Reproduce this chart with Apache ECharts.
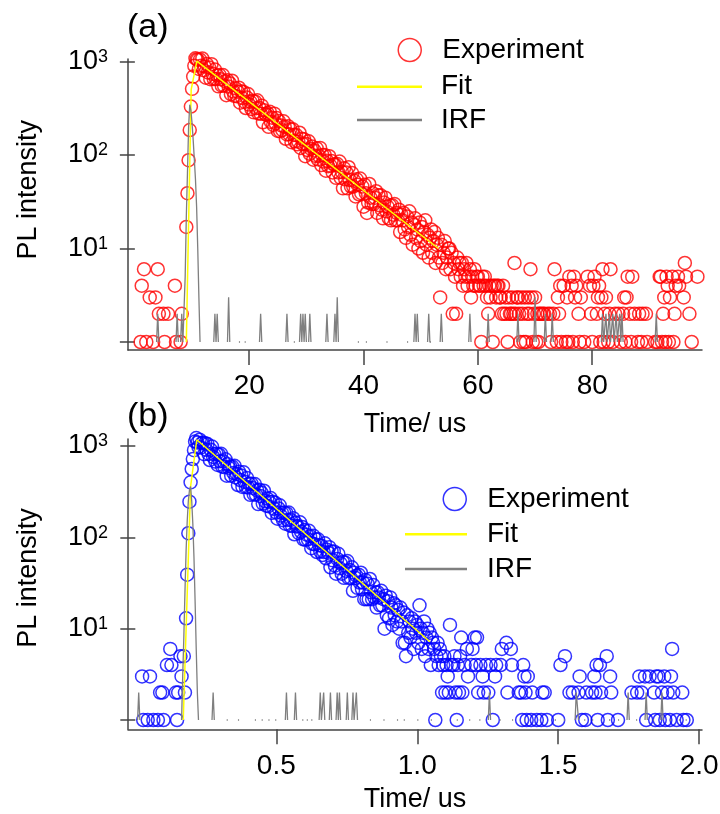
<!DOCTYPE html>
<html>
<head>
<meta charset="utf-8">
<script src="https://cdn.jsdelivr.net/npm/echarts@6/dist/echarts.min.js"></script>
<style>html,body{margin:0;padding:0;background:#fff}#chart{width:720px;height:814px}</style>
</head>
<body>
<div id="chart"></div>
<script>
var chart = echarts.init(document.getElementById('chart'));

var font = 'Liberation Sans, Arial, sans-serif';
var axisColor = '#444';

// panel (a): channel width 0.2 us, counts per channel
var binA = 0.2;
var countsA = [
  0,0,0,0,0,1,4,0,6,0, 1,0,0,3,0,0,1,0,3,0,
  6,2,0,0,0,2,1,0,0,2, 0,0,0,0,0,4,1,0,0,0,
  1,2,0,0,0,17,39,88,185,330, 510,690,900,1080,1060,1047,832,1050,898,1078,
  807,885,671,939,764,860,647,937,738,649, 821,649,710,542,719,646,552,717,552,616,
  436,629,539,586,447,623,479,429,517,425, 476,524,363,481,407,473,369,318,412,448,
  346,371,310,380,286,374,317,384,279,318, 276,337,224,301,274,269,281,200,290,226,
  251,210,277,219,248,181,231,180,207,184, 229,201,149,166,203,167,189,137,189,164,
  140,164,130,139,173,119,149,131,147,97, 131,113,140,103,116,123,89,112,98,118,
  90,98,119,78,100,85,100,68,87,76, 97,77,86,65,79,79,57,80,65,85,
  57,66,44,72,55,65,44,74,54,46, 64,46,53,36,55,48,38,56,39,46,
  28,48,39,24,31,49,35,30,39,30, 35,41,24,37,29,37,26,21,31,35,
  25,28,21,29,20,29,23,30,20,24, 20,26,15,23,20,24,16,13,22,17,
  25,14,19,11,18,21,13,16,10,19, 12,17,9,15,20,11,14,8,13,16,
  9,12,15,7,11,13,8,3,11,7, 9,12,6,8,10,10,6,9,2,7,
  5,2,8,6,7,5,7,4,6,5, 7,4,5,6,3,5,4,6,4,5,
  5,4,4,1,5,4,5,4,3,2, 4,3,4,1,4,4,3,4,4,3,
  3,2,4,2,3,2,1,3,2,2, 3,2,7,2,3,3,2,1,3,2,
  1,3,1,2,3,2,6,3,1,2, 3,1,2,1,2,2,0,2,2,0,
  0,2,0,2,1,0,2,6,0,1, 3,2,4,1,0,4,0,1,3,1,
  5,0,4,1,5,3,4,0,2,1, 3,0,0,1,0,0,5,0,4,2,
  1,4,5,0,2,3,4,1,3,6, 1,2,3,0,1,2,6,0,1,0,
  2,0,0,2,0,1,0,2,3,1, 3,5,0,2,1,5,0,2,0,0,
  1,2,0,1,2,0,0,2,1,0, 0,0,0,0,0,1,0,1,0,5,
  5,1,2,3,1,5,4,1,3,0, 5,1,2,4,0,5,4,0,0,0,
  3,7,5,0,0,2,0,1,0,0, 0,0,5,0,0,0,0,0,0,0
];
var irfA = [
  0,0,0,0,0,0,0,0,0,0, 0,0,0,0,0,0,0,0,0,1,
  2,1,0,0,0,0,0,0,0,0, 0,0,0,0,0,0,1,2,1,0,
  1,2,1,1,5,22,64,200,345,300, 220,145,90,55,28,10,3,1,0,0,
  0,0,0,0,0,0,0,0,0,1, 2,1,2,1,0,0,0,0,0,0,
  0,1,3,1,0,0,0,0,0,0, 0,1,1,0,0,0,1,1,0,0,
  0,0,0,0,0,0,0,0,0,1, 2,1,0,0,0,0,0,0,0,0,
  0,0,0,0,0,0,0,0,0,0, 0,0,1,2,1,0,0,0,0,1,
  1,0,0,0,1,2,1,2,1,2, 1,0,1,2,1,0,0,0,0,0,
  0,0,0,0,0,0,0,1,2,1, 0,0,0,0,1,2,1,3,1,0,
  0,0,0,0,0,0,0,0,0,0, 0,0,0,0,0,1,1,0,0,0,
  0,0,1,1,0,0,0,0,0,0, 0,0,0,0,0,0,0,0,0,0,
  1,1,0,0,0,0,0,0,0,0, 0,0,0,0,0,0,0,0,1,1,
  0,0,0,0,1,2,1,2,1,0, 0,0,0,0,0,0,1,2,1,1,
  0,0,0,0,0,0,0,1,2,1, 0,0,0,0,0,0,0,0,0,0,
  0,0,0,0,0,0,0,0,0,0, 0,0,1,2,1,0,0,0,0,0,
  0,0,0,0,0,0,0,0,1,2, 1,0,0,0,0,0,0,0,0,0,
  0,0,0,0,0,0,0,0,0,0, 0,0,0,0,1,2,1,0,0,0,
  0,0,0,0,0,0,0,0,0,1, 3,1,0,0,0,0,0,0,1,2,
  1,0,0,0,1,2,1,0,0,0, 0,0,0,0,0,0,0,0,0,0,
  0,0,0,0,0,0,0,0,0,0, 0,0,0,0,0,0,0,0,0,0,
  0,0,0,0,0,0,0,0,1,2, 1,1,2,1,1,2,1,1,2,1,
  1,2,1,1,2,1,2,1,0,0, 0,0,0,0,0,0,0,0,0,0,
  0,0,0,0,0,0,0,0,0,0, 0,0,0,0,0,1,2,1,0,0,
  0,0,0,0,0,0,0,0,0,0, 0,0,0,0,0,0,0,0,0,0,
  0,0,0,0,0,0,0,0,0,0, 0,0,0,0,0,0,0,0,0,0
];
var fitTimeA = [9.0, 9.85, 10.84, 53.1];
var fitValA = [1, 500, 1010, 10];
var ticksA = [20, 40, 60, 80];

// panel (b): channel width 0.004 us
var binB = 0.004;
var countsB = [
  0,0,0,0,0,0,3,1,0,0, 0,1,0,3,0,0,1,0,0,0,
  1,0,2,0,2,1,0,0,4,0, 0,6,4,0,0,0,2,1,2,0,
  5,3,0,5,2,13,39,111,246,400, 560,720,900,1120,1220,1092,976,1172,961,1073,
  1090,813,1074,907,1051,818,702,907,985,758, 811,675,825,621,808,681,822,595,679,586,
  714,473,632,577,597,472,595,507,607,453, 495,374,522,424,475,356,515,405,355,447,
  352,385,292,387,347,295,383,293,327,231, 332,283,307,234,324,249,222,266,219,244,
  269,185,245,206,239,187,160,207,224,173, 185,154,187,141,184,155,187,135,155,133,
  162,108,144,131,133,111,146,115,130,95, 120,94,107,95,118,103,76,85,104,84,
  95,69,95,82,70,81,64,69,86,59, 73,68,78,47,70,56,70,49,40,58,
  66,46,52,40,54,36,53,43,55,36, 44,36,47,26,41,36,38,28,39,32,
  41,27,32,21,34,21,31,21,35,25, 21,30,22,25,17,25,22,18,26,18,
  21,10,23,14,20,13,22,17,11,19, 14,18,12,16,10,17,12,7,15,7,
  5,14,9,12,8,13,10,6,12,9, 11,7,18,10,6,9,12,5,8,10,
  6,9,4,8,7,6,1,5,7,4, 6,5,2,4,5,2,4,3,2,11,
  4,0,4,5,2,1,4,2,5,8, 2,0,4,0,6,3,0,0,4,6,
  0,8,4,8,2,0,4,0,3,2, 0,4,0,2,0,4,0,1,0,3,
  4,0,0,0,4,6,0,0,0,7, 2,0,0,6,4,0,0,0,0,0,
  2,0,2,1,4,3,2,1,3,0, 0,1,2,0,0,0,1,0,0,0,
  1,2,0,2,0,1,0,0,0,0, 0,0,0,0,0,1,0,4,0,0,
  0,5,0,0,0,2,0,0,2,0, 0,0,0,2,3,0,1,0,0,1,
  2,0,0,0,0,2,0,3,2,4, 1,0,4,2,0,0,0,0,5,1,
  0,3,2,0,0,0,0,0,1,0, 0,0,0,0,0,0,0,0,0,0,
  2,0,0,0,0,2,0,3,0,2, 0,0,3,1,0,0,3,0,0,0,
  2,1,3,0,3,1,0,2,0,3, 1,0,2,0,1,3,6,2,0,0,
  1,0,0,0,0,2,1,0,0,1, 0,0,0,0,0,0,0,0,0,0
];
var irfB = [
  0,0,1,2,1,0,0,0,0,0, 0,0,0,0,0,0,0,0,0,0,
  0,0,0,0,0,0,0,0,0,0, 0,0,0,0,0,0,0,0,0,0,
  0,1,3,8,25,70,150,250,330,360, 250,140,60,20,6,2,1,0,0,0,
  0,0,0,0,0,0,0,0,1,2, 1,0,0,0,0,0,0,0,0,0,
  0,1,1,0,0,0,0,0,0,0, 0,1,1,0,0,0,0,0,0,0,
  0,0,0,0,0,0,1,1,0,0, 0,0,1,1,0,0,0,0,1,1,
  0,0,0,0,1,1,0,0,0,0, 0,0,0,1,2,1,0,0,0,0,
  0,1,2,1,0,0,0,0,1,1, 0,0,1,1,0,0,1,1,0,0,
  0,0,0,1,2,1,1,2,1,0, 0,0,1,2,1,0,0,0,1,2,
  1,2,1,0,0,0,0,1,2,1, 0,0,1,2,1,1,2,1,0,0,
  0,0,0,0,0,0,0,0,1,1, 0,0,0,0,0,0,0,0,0,0,
  1,1,0,0,0,0,0,0,0,0, 0,0,1,1,0,0,0,0,1,1,
  0,0,0,0,0,0,0,0,0,0, 1,1,0,0,0,0,0,0,0,0,
  0,0,1,1,0,0,0,0,0,0, 0,0,0,0,0,0,0,0,0,0,
  0,0,0,0,0,1,1,0,0,0, 0,0,0,0,0,0,1,1,0,0,
  0,0,0,0,0,1,1,0,0,0, 0,0,0,1,2,1,0,0,0,0,
  0,0,0,1,1,0,0,0,0,0, 0,0,0,0,1,1,0,0,0,0,
  0,0,0,0,0,1,1,0,0,0, 0,0,0,0,0,0,0,0,0,0,
  0,0,0,0,0,0,0,0,0,0, 0,0,1,1,0,0,0,0,0,0,
  1,1,0,0,0,0,0,0,0,0, 1,2,2,1,0,0,0,0,1,1,
  0,0,0,0,0,1,1,0,0,0, 0,0,0,0,0,0,0,0,0,0,
  1,1,0,0,0,0,0,0,1,1, 0,0,0,0,0,0,1,2,1,0,
  0,0,0,0,1,1,0,0,0,0, 0,0,1,2,1,0,0,0,0,1,
  1,0,0,0,0,0,1,2,1,0, 0,0,0,0,1,1,0,0,0,0,
  0,0,1,1,0,0,0,0,1,1, 0,0,0,0,0,0,0,0,0,0
];
var fitTimeB = [0.170, 0.196, 0.218, 1.045];
var fitValB = [1, 360, 1170, 7.2];
var ticksB = [0.5, 1.0, 1.5, 2.0];

function scatterData(counts, bin) {
  var out = [];
  counts.forEach(function (c, i) {
    if (c > 0) out.push([+(i * bin).toFixed(4), c]);
  });
  return out;
}
function lineData(counts, bin) {
  return counts.map(function (c, i) {
    return [+(i * bin).toFixed(4), c > 0 ? c : '-'];
  });
}
function pairData(t, v) {
  return t.map(function (x, i) { return [x, v[i]]; });
}

var lineStyleAxis = { color: axisColor, width: 1.5 };

function dataX(gi, min, max) {
  return { type: 'value', gridIndex: gi, min: min, max: max, show: false };
}
function frameX(gi, min, max, ticks, margin, gap, fmt) {
  return {
    type: 'value', gridIndex: gi, min: min, max: max,
    name: 'Time/ us', nameLocation: 'middle', nameGap: gap,
    nameTextStyle: { fontFamily: font, fontSize: 27, color: '#000' },
    axisLine: { show: true, onZero: false, lineStyle: lineStyleAxis },
    axisTick: { show: true, customValues: ticks, length: 15, lineStyle: lineStyleAxis },
    axisLabel: { customValues: ticks, margin: margin, fontFamily: font, fontSize: 28, color: '#000', formatter: fmt },
    splitLine: { show: false }
  };
}
function dataY(gi, namePad) {
  return {
    type: 'log', logBase: 10, gridIndex: gi, min: 1, max: 1000,
    name: 'PL intensity', nameLocation: 'middle', nameGap: 86,
    nameTextStyle: { fontFamily: font, fontSize: 27, color: '#000', padding: [0, 0, 0, namePad] },
    axisLine: { show: false },
    axisTick: { show: true, length: 15, lineStyle: lineStyleAxis },
    axisLabel: {
      margin: 20, color: '#000',
      formatter: function (v) {
        if (v < 5) return '';
        return '{m|10}{s|' + Math.round(Math.log10(v)) + '}';
      },
      rich: {
        m: { fontFamily: font, fontSize: 27, color: '#000' },
        s: { fontFamily: font, fontSize: 18, color: '#000', verticalAlign: 'top' }
      }
    },
    splitLine: { show: false }
  };
}
function frameY(gi) {
  return {
    type: 'value', gridIndex: gi, min: 0, max: 1,
    axisLine: { show: true, onZero: false, lineStyle: lineStyleAxis },
    axisTick: { show: false }, axisLabel: { show: false }, splitLine: { show: false }
  };
}

function legendItem(name, left, top, w, h, pad, ring) {
  var item = { name: name };
  if (ring) {
    item.icon = 'circle';
    item.itemStyle = { color: 'transparent', borderColor: ring, borderWidth: 1.5 };
  } else {
    item.icon = 'path://M0,0H65V2.5H0Z';
  }
  return {
    data: [item], left: left, top: top, padding: 0, itemWidth: w, itemHeight: h,
    selectedMode: false,
    formatter: function (n) { return n.replace('_b', ''); },
    textStyle: { fontFamily: font, fontSize: 28, color: '#000', padding: [0, 0, 0, pad] }
  };
}

function expSeries(name, xi, data, color) {
  return {
    type: 'scatter', name: name, xAxisIndex: xi, yAxisIndex: xi, data: data,
    symbol: 'circle', symbolSize: 13, clip: false,
    itemStyle: { color: 'transparent', borderColor: color, borderWidth: 1.5 },
    emphasis: { disabled: true }
  };
}
function lineSeries(name, xi, data, color, width) {
  return {
    type: 'line', name: name, xAxisIndex: xi, yAxisIndex: xi, data: data,
    symbol: 'none', clip: false, connectNulls: false,
    lineStyle: { color: color, width: width }, itemStyle: { color: color },
    emphasis: { disabled: true }
  };
}

var option = {
  animation: false,
  backgroundColor: '#fff',
  title: [
    { text: '(a)', left: 127, top: 11, padding: 0,
      textStyle: { fontFamily: font, fontSize: 34, fontWeight: 'normal', color: '#000' } },
    { text: '(b)', left: 127, top: 400, padding: 0,
      textStyle: { fontFamily: font, fontSize: 34, fontWeight: 'normal', color: '#000' } }
  ],
  grid: [
    { left: 128, top: 61.5, width: 574, height: 280.5, outerBoundsMode: 'none' },
    { left: 128, top: 59, width: 574, height: 291, outerBoundsMode: 'none' },
    { left: 128, top: 446, width: 574, height: 274, outerBoundsMode: 'none' },
    { left: 128, top: 439, width: 574, height: 290.3, outerBoundsMode: 'none' }
  ],
  xAxis: [
    dataX(0, -1.2, 99.2),
    frameX(1, -1.2, 99.2, ticksA, 22, 61, function (v) { return String(v); }),
    dataX(2, -0.026, 2.01),
    frameX(3, -0.026, 2.01, ticksB, 23, 57, function (v) { return v.toFixed(1); })
  ],
  yAxis: [dataY(0, 24), frameY(1), dataY(2, 10), frameY(3)],
  legend: [
    legendItem('Experiment', 397.5, 36, 23, 23, 16, '#ff0000'),
    legendItem('Fit', 357, 72.7, 65, 14, 14),
    legendItem('IRF', 357, 106, 65, 14, 14),
    legendItem('Experiment_b', 442.5, 485, 23, 23, 16, '#0000ff'),
    legendItem('Fit_b', 405, 520.3, 62, 14, 15),
    legendItem('IRF_b', 405, 555, 62, 14, 15)
  ],
  series: [
    expSeries('Experiment', 0, scatterData(countsA, binA), '#ff0000'),
    lineSeries('Fit', 0, pairData(fitTimeA, fitValA), '#ffff00', 1.5),
    lineSeries('IRF', 0, lineData(irfA, binA), '#7f7f7f', 1.3),
    expSeries('Experiment_b', 2, scatterData(countsB, binB), '#0000ff'),
    lineSeries('Fit_b', 2, pairData(fitTimeB, fitValB), '#ffff00', 1.5),
    lineSeries('IRF_b', 2, lineData(irfB, binB), '#7f7f7f', 1.3)
  ]
};

chart.setOption(option);
</script>
</body>
</html>
